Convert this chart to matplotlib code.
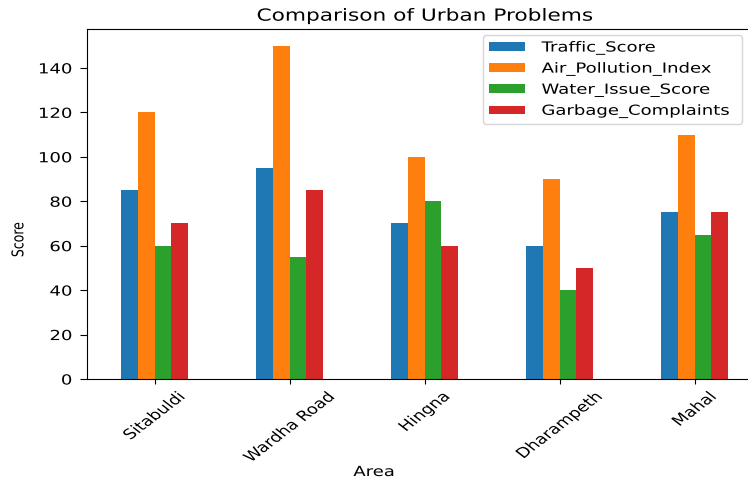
import matplotlib
matplotlib.use("Agg")
import matplotlib.pyplot as plt
import numpy as np
from matplotlib.patheffects import AbstractPathEffect
from matplotlib.transforms import Affine2D

areas = ["Sitabuldi", "Wardha Road", "Hingna", "Dharampeth", "Mahal"]
traffic = [85, 95, 70, 60, 75]
air = [120, 150, 100, 90, 110]
water = [60, 55, 80, 40, 65]
garbage = [70, 85, 60, 50, 75]
series_names = ["Traffic_Score", "Air_Pollution_Index", "Water_Issue_Score", "Garbage_Complaints"]
series = [traffic, air, water, garbage]
colors = ["#1f77b4", "#ff7f0e", "#2ca02c", "#d62728"]

SX = 1.3  # horizontal stretch of the reference's text


class HStretch(AbstractPathEffect):
    """Stretch rendered text horizontally (screen x) about an anchor."""

    def __init__(self, sx=SX, anchor="center"):
        super().__init__()
        self.sx = sx
        self.anchor = anchor

    def draw_path(self, renderer, gc, tpath, affine, rgbFace=None):
        ext = tpath.get_extents(affine)
        if self.anchor == "left":
            px = ext.x0
        elif self.anchor == "right":
            px = ext.x1
        else:
            px = 0.5 * (ext.x0 + ext.x1)
        t = affine + Affine2D().translate(-px, 0).scale(self.sx, 1).translate(px, 0)
        renderer.draw_path(gc, tpath, t, rgbFace)


fig = plt.figure(figsize=(7.48, 4.81), dpi=100)
ax = fig.add_axes([87/748, 101/481, (762-87)/748, 350/481])

x = np.arange(len(areas))
n = len(series)
w = 0.5 / n
for i, (name, vals) in enumerate(zip(series_names, series)):
    ax.bar(x + (i - (n - 1) / 2) * w, vals, w, color=colors[i], label=name)

ax.set_xlim(-0.5, len(areas) - 0.5)
ax.set_ylim(0, 157.5)
ax.set_xticks(x)
ax.set_xticklabels(areas, rotation=45)
ax.tick_params(axis="y", length=5, pad=5.8)
ax.tick_params(axis="x", length=3.5, pad=4.0)

xl = ax.set_xlabel("Area")
ax.xaxis.set_label_coords(0.5, 1 - 466/481, transform=fig.transFigure)
yl = ax.set_ylabel("Score", fontsize=9)
ax.yaxis.set_label_coords(25/748, 0.5, transform=fig.transFigure)
ttl = ax.set_title("Comparison of Urban Problems", fontsize=12)

leg = ax.legend(loc="upper left",
                bbox_to_anchor=(483/748, 1 - 121/481, (742-483)/748, 85/481),
                bbox_transform=fig.transFigure, mode="expand", borderaxespad=0,
                handlelength=2.6, handletextpad=1.22, handleheight=0.6)

for t in ax.get_xticklabels():
    t.set_path_effects([HStretch(SX, "center")])
for t in ax.get_yticklabels():
    t.set_path_effects([HStretch(SX, "right")])
for t in leg.get_texts():
    t.set_path_effects([HStretch(SX, "left")])
xl.set_path_effects([HStretch(SX, "center")])
yl.set_path_effects([HStretch(SX, "center")])
ttl.set_path_effects([HStretch(SX, "center")])

fig.savefig("out.png", dpi=100)
